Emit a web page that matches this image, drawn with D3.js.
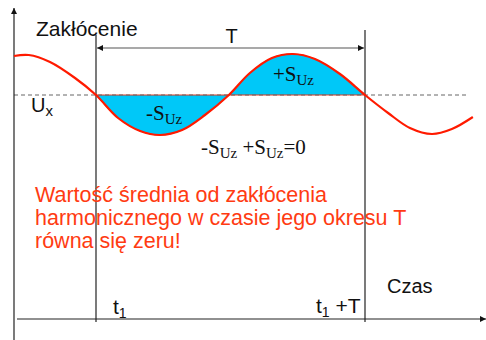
<!DOCTYPE html>
<html>
<head>
<meta charset="utf-8">
<script src="https://cdn.jsdelivr.net/npm/d3@7"></script>
<style>
  body { margin: 0; background: #fff; }
  svg { display: block; }
</style>
</head>
<body>
<div id="chart"></div>
<script>
// Disturbance signal: time in periods (t1 = 0, t1+T = 1), value in amplitudes
const times = [-0.305, -0.25, -0.171, -0.078, 0, 0.082, 0.164, 0.238, 0.32, 0.405, 0.494,
  0.572, 0.654, 0.732, 0.814, 0.907, 1, 1.086, 1.167, 1.249, 1.323, 1.401];
const values = [0.975, 1, 0.825, 0.425, 0, -0.575, -0.9, -1, -0.875, -0.5, 0,
  0.55, 0.925, 1.025, 0.9, 0.525, 0, -0.45, -0.825, -0.975, -0.85, -0.55];
const periodMarks = [0, 1]; // t1 and t1 + T
const noteLines = ["Wartość średnia od zakłócenia", "harmonicznego w czasie jego okresu T", "równa się zeru!"];

const width = 486, height = 340;
const svg = d3.select("#chart").append("svg")
  .attr("width", width)
  .attr("height", height);

const x = d3.scaleLinear().domain([0, 1]).range([96, 365]);
const y = d3.scaleLinear().domain([-1, 1]).range([135, 55]);

const signal = times.map((t, i) => ({ t, v: values[i] }));
const inPeriod = signal.filter(d => d.t >= 0 && d.t <= 1);

const sans = "'Liberation Sans', Arial, sans-serif";
const serif = "'Liberation Serif', 'Times New Roman', serif";

// arrow heads
svg.append("defs").append("marker")
  .attr("id", "arr")
  .attr("viewBox", "0 0 10 10")
  .attr("refX", 10).attr("refY", 5)
  .attr("markerWidth", 7).attr("markerHeight", 6)
  .attr("markerUnits", "userSpaceOnUse")
  .attr("orient", "auto-start-reverse")
  .append("path")
  .attr("d", "M0,0L10,5L0,10Z")
  .attr("fill", "#111");

// filled areas between curve and Ux level over one period
svg.append("path")
  .datum(inPeriod)
  .attr("d", d3.area().x(d => x(d.t)).y0(y(0)).y1(d => y(d.v)).curve(d3.curveCatmullRom))
  .attr("fill", "#00c8f8")
  .attr("stroke", "#e8391e")
  .attr("stroke-width", 1);

// Ux dashed level
svg.append("line")
  .attr("x1", 14).attr("x2", 467)
  .attr("y1", y(0)).attr("y2", y(0))
  .attr("stroke", "#666")
  .attr("stroke-width", 1)
  .attr("stroke-dasharray", "4,3");

// axes
svg.append("line")
  .attr("x1", 14).attr("x2", 14)
  .attr("y1", 340).attr("y2", 8)
  .attr("stroke", "#222").attr("stroke-width", 1.2)
  .attr("marker-end", "url(#arr)");
svg.append("line")
  .attr("x1", 17).attr("x2", 486)
  .attr("y1", 319).attr("y2", 319)
  .attr("stroke", "#222").attr("stroke-width", 1.2)
  .attr("marker-end", "url(#arr)");

// period boundaries
svg.selectAll("line.mark")
  .data(periodMarks)
  .join("line")
  .attr("class", "mark")
  .attr("x1", d => x(d)).attr("x2", d => x(d))
  .attr("y1", (d, i) => i === 0 ? 35 : 30)
  .attr("y2", 322)
  .attr("stroke", "#222").attr("stroke-width", 1.2);

// T arrow
svg.append("line")
  .attr("x1", x(0) + 1).attr("x2", x(1) - 1)
  .attr("y1", 48).attr("y2", 48)
  .attr("stroke", "#555").attr("stroke-width", 1.2)
  .attr("marker-start", "url(#arr)")
  .attr("marker-end", "url(#arr)");

// red signal curve
svg.append("path")
  .datum(signal)
  .attr("d", d3.line().x(d => x(d.t)).y(d => y(d.v)).curve(d3.curveCatmullRom))
  .attr("fill", "none")
  .attr("stroke", "#ff1a00")
  .attr("stroke-width", 2.2);

// texts
function label(tx, ty, txt, size, font, color) {
  return svg.append("text")
    .attr("x", tx).attr("y", ty)
    .style("font-family", font)
    .style("font-size", size + "px")
    .style("fill", color || "#111")
    .text(txt);
}

label(36, 36, "Zakłócenie", 21, sans);
label((x(0) + x(1)) / 2 - 5, 43, "T", 20, sans);

const ux = label(31, 112, "U", 20, sans);
ux.append("tspan").attr("dy", 4).style("font-size", "15px").text("x");

function sLabel(tx, ty, sign) {
  const t = label(tx, ty, sign + "S", 21, serif);
  t.append("tspan").attr("dy", 4).style("font-size", "15px").text("Uz");
  return t;
}
sLabel(146, 120, "-");
sLabel(273, 81, "+");

const sum = label(201, 154, "-S", 21, serif);
sum.append("tspan").attr("dy", 4).style("font-size", "15px").text("Uz");
sum.append("tspan").attr("dy", -4).text(" +S");
sum.append("tspan").attr("dy", 4).style("font-size", "15px").text("Uz");
sum.append("tspan").attr("dy", -4).text("=0");

svg.selectAll("text.note")
  .data(noteLines)
  .join("text")
  .attr("class", "note")
  .attr("x", 35)
  .attr("y", (d, i) => 202 + i * 23)
  .style("font-family", sans)
  .style("font-size", "21.5px")
  .style("fill", "#ff3b12")
  .text(d => d);

label(387, 293, "Czas", 20, sans);

const t1 = label(113, 314, "t", 21, sans);
t1.append("tspan").attr("dy", 4).style("font-size", "14px").text("1");

const t1T = label(316, 313, "t", 21, sans);
t1T.append("tspan").attr("dy", 4).style("font-size", "14px").text("1");
t1T.append("tspan").attr("dy", -4).text(" +T");
</script>
</body>
</html>
